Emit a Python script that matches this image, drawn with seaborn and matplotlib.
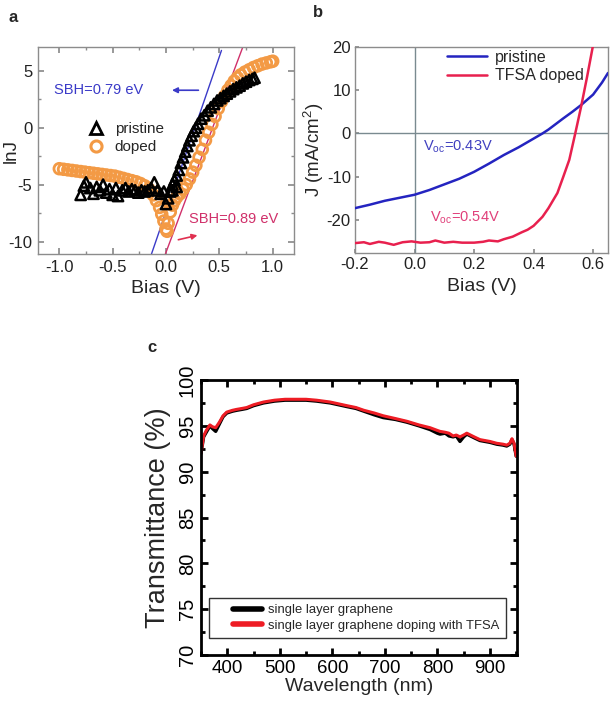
import matplotlib
matplotlib.use("Agg")
import matplotlib.pyplot as plt
import seaborn as sns
import pandas as pd
from matplotlib.ticker import MultipleLocator
from matplotlib.lines import Line2D
from matplotlib.legend_handler import HandlerLine2D

# ---------------- data: panel a ----------------
pristine_x = [-0.80, -0.77, -0.75, -0.71, -0.68, -0.65, -0.62, -0.59, -0.56, -0.53, -0.50,
              -0.47, -0.45, -0.41, -0.38, -0.35, -0.32, -0.29, -0.26, -0.23, -0.20, -0.17,
              -0.14, -0.11, -0.08, -0.05, -0.02, 0.06, 0.10,
              0.00, 0.02, 0.04, 0.06, 0.08, 0.10, 0.12, 0.14, 0.16, 0.18, 0.20, 0.22, 0.24,
              0.26, 0.28, 0.30, 0.33, 0.36, 0.39, 0.42, 0.45, 0.48, 0.51, 0.54, 0.57, 0.60,
              0.63, 0.66, 0.69, 0.72, 0.75, 0.78, 0.81, 0.83]
pristine_y = [-5.9, -5.1, -4.8, -5.3, -5.8, -5.2, -5.5, -5.0, -5.7, -5.4, -5.9,
              -5.3, -6.0, -5.5, -5.3, -5.6, -5.4, -5.5, -5.7, -5.5, -5.6, -5.5,
              -5.3, -4.8, -5.5, -5.8, -5.6, -5.5, -5.2,
              -6.7, -6.2, -5.6, -5.0, -4.6, -4.2, -3.7, -3.1, -2.6, -2.1, -1.6, -1.1, -0.7,
              -0.3, 0.0, 0.35, 0.8, 1.1, 1.5, 1.8, 2.1, 2.4, 2.6, 2.8, 3.0, 3.2,
              3.4, 3.55, 3.7, 3.9, 4.05, 4.2, 4.3, 4.4]

doped_x = [-1.00, -0.96, -0.92, -0.88, -0.84, -0.80, -0.76, -0.72, -0.68, -0.64, -0.60,
           -0.56, -0.52, -0.48, -0.44, -0.40, -0.36, -0.32, -0.28, -0.24, -0.20, -0.16,
           -0.12, -0.09, -0.06, -0.04, -0.02, 0.00, 0.01, 0.02, 0.04, 0.06, 0.08, 0.10,
           0.13, 0.16, 0.19, 0.22, 0.25, 0.28, 0.31, 0.34, 0.37, 0.40, 0.43, 0.46, 0.49,
           0.52, 0.55, 0.58, 0.61, 0.64, 0.67, 0.70, 0.74, 0.78, 0.82, 0.86, 0.90, 0.94,
           0.98, 1.00]
doped_y = [-3.6, -3.65, -3.7, -3.75, -3.8, -3.85, -3.9, -3.95, -4.0, -4.05, -4.1,
           -4.15, -4.2, -4.25, -4.35, -4.45, -4.55, -4.65, -4.75, -4.9, -5.1, -5.4,
           -5.9, -6.4, -7.0, -7.6, -8.2, -8.9, -9.1, -8.4, -7.4, -6.8, -6.4, -6.1,
           -5.8, -5.4, -5.0, -4.5, -3.9, -3.3, -2.6, -1.9, -1.1, -0.4, 0.3, 1.0, 1.7,
           2.3, 2.8, 3.3, 3.7, 4.1, 4.4, 4.65, 4.9, 5.1, 5.3, 5.45, 5.6, 5.7,
           5.8, 5.85]

fit_pristine_x = [-0.14, 0.52]
fit_pristine_y = [-11.2, 6.8]
fit_doped_x = [-0.01, 0.72]
fit_doped_y = [-11.2, 7.1]

# ---------------- data: panel b ----------------
jv_pristine_v = [-0.20, -0.15, -0.10, -0.05, 0.00, 0.05, 0.10, 0.15, 0.20, 0.25, 0.30,
                 0.35, 0.40, 0.43, 0.45, 0.50, 0.53, 0.56, 0.60, 0.63, 0.65]
jv_pristine_j = [-17.3, -16.5, -15.6, -14.9, -14.2, -13.1, -11.8, -10.5, -8.9, -7.0, -5.0,
                 -3.2, -1.2, 0.0, 0.9, 3.5, 5.0, 6.6, 9.0, 11.8, 14.0]
jv_doped_v = [-0.20, -0.17, -0.15, -0.12, -0.10, -0.07, -0.04, -0.01, 0.02, 0.05, 0.07,
              0.10, 0.13, 0.16, 0.20, 0.23, 0.25, 0.28, 0.30, 0.33, 0.36, 0.38, 0.40,
              0.43, 0.45, 0.48, 0.50, 0.52, 0.54, 0.56, 0.58, 0.60]
jv_doped_j = [-25.4, -25.2, -25.6, -25.1, -25.3, -25.8, -25.2, -25.0, -25.3, -25.2, -24.8,
              -25.3, -25.1, -25.3, -25.3, -25.1, -24.8, -25.0, -24.5, -23.9, -22.9, -22.3, -21.4,
              -19.3, -17.3, -13.8, -10.0, -6.1, 0.0, 6.3, 13.2, 20.5]

# ---------------- data: panel c ----------------
wl_graphene = [350, 355, 360, 367, 372, 378, 385, 392, 399, 410, 418, 428, 437, 450, 469,
               490, 510, 532, 550, 570, 596, 612, 628, 645, 660, 680, 697, 720, 742, 765,
               786, 800, 805, 815, 822, 830, 836, 843, 850, 856, 870, 881, 900, 913, 925,
               932, 938, 942, 946, 950]
t_graphene = [92.0, 93.8, 94.3, 95.0, 94.7, 94.4, 95.2, 96.0, 96.4, 96.6, 96.7, 96.8, 96.9,
              97.2, 97.5, 97.7, 97.8, 97.8, 97.8, 97.7, 97.5, 97.3, 97.1, 96.9, 96.6, 96.2,
              95.9, 95.7, 95.4, 95.0, 94.6, 94.2, 94.1, 94.2, 93.9, 93.8, 93.9, 93.3, 93.8,
              94.1, 93.7, 93.4, 93.2, 93.0, 92.9, 92.8, 93.0, 93.5, 93.0, 91.7]
wl_tfsa = [350, 355, 360, 367, 372, 378, 385, 392, 399, 410, 418, 428, 437, 450, 469,
           490, 510, 532, 550, 570, 596, 612, 628, 645, 660, 680, 697, 720, 742, 765,
           786, 800, 805, 815, 822, 830, 836, 843, 850, 856, 870, 881, 900, 913, 925,
           932, 938, 942, 946, 950]
t_tfsa = [92.0, 93.9, 94.5, 95.1, 94.9, 94.8, 95.4, 96.1, 96.5, 96.7, 96.8, 96.9, 97.0,
          97.3, 97.6, 97.8, 97.9, 97.9, 97.9, 97.8, 97.6, 97.4, 97.2, 97.0, 96.7, 96.4,
          96.1, 95.8, 95.5, 95.1, 94.8, 94.5, 94.4, 94.3, 94.2, 93.9, 94.0, 93.8, 94.0,
          94.2, 93.8, 93.5, 93.3, 93.1, 93.0, 92.9, 93.1, 93.6, 93.1, 91.7]

# ---------------- figure ----------------
sns.set_theme(style="ticks")
plt.rcParams['font.family'] = ['Liberation Sans', 'DejaVu Sans']
plt.rcParams['mathtext.fontset'] = 'custom'
plt.rcParams['mathtext.rm'] = 'Liberation Sans'
plt.rcParams['axes.unicode_minus'] = False

fig = plt.figure(figsize=(6.16, 7.06), dpi=100)

GRAY = '#8c8c8c'

# ---- panel a ----
axa = fig.add_axes([0.0617, 0.6402, 0.4156, 0.2932])
da = pd.DataFrame({'x': doped_x, 'y': doped_y})
pa = pd.DataFrame({'x': pristine_x, 'y': pristine_y})
sns.lineplot(x=fit_pristine_x, y=fit_pristine_y, ax=axa, color='#3a3ac8', lw=1.0)
sns.lineplot(x=fit_doped_x, y=fit_doped_y, ax=axa, color='#d0306a', lw=1.0)
sns.scatterplot(data=da, x='x', y='y', ax=axa, marker='o', s=60,
                facecolor='none', edgecolor='#f39a45', linewidth=2.0, zorder=3)
sns.scatterplot(data=pa, x='x', y='y', ax=axa, marker='^', s=55,
                facecolor='none', edgecolor='black', linewidth=1.8, zorder=4)
axa.set_xlim(-1.2, 1.2)
axa.set_ylim(-11.1, 7.1)
axa.set_xticks([-1.0, -0.5, 0.0, 0.5, 1.0])
axa.set_yticks([-10, -5, 0, 5])
axa.xaxis.set_minor_locator(MultipleLocator(0.25))
axa.yaxis.set_minor_locator(MultipleLocator(2.5))
axa.tick_params(which='both', direction='in', top=True, right=True, color=GRAY,
                labelsize=12, labelcolor='#222222', pad=4)
axa.tick_params(which='major', length=4)
axa.tick_params(which='minor', length=2)
for s in axa.spines.values():
    s.set_color(GRAY)
    s.set_linewidth(1.0)
axa.set_xlabel('Bias (V)', fontsize=14, labelpad=4)
axa.set_ylabel('lnJ', fontsize=13.5, va='center')
axa.yaxis.set_label_coords(-0.105, 0.5)
axa.text(-0.63, 3.3, 'SBH=0.79 eV', color='#3a3ac8', fontsize=10.5, ha='center', va='center')
axa.annotate('', xy=(0.03, 3.3), xytext=(0.33, 3.3),
             arrowprops=dict(arrowstyle='-|>', color='#3a3ac8', lw=1.2, mutation_scale=8))
axa.text(0.63, -8.0, 'SBH=0.89 eV', color='#d0306a', fontsize=10.5, ha='center', va='center')
axa.annotate('', xy=(0.32, -9.4), xytext=(0.09, -9.9),
             arrowprops=dict(arrowstyle='-|>', color='#e03050', lw=1.2, mutation_scale=8))
h_a = [Line2D([], [], ls='none', marker='^', ms=8, mfc='none', mec='black', mew=2.0),
       Line2D([], [], ls='none', marker='o', ms=8, mfc='none', mec='#f39a45', mew=2.2)]
axa.legend(h_a, ['pristine', 'doped'], loc='upper left', bbox_to_anchor=(0.15, 0.69),
           frameon=False, fontsize=11, handletextpad=0.6, labelspacing=0.3,
           handlelength=1.2, borderpad=0.2)
fig.text(0.013, 0.975, 'a', fontsize=12, fontweight='bold', va='center')

# ---- panel b ----
axb = fig.add_axes([0.5763, 0.6416, 0.4107, 0.2917])
axb.axhline(0, color='#7a8a90', lw=1.0, zorder=1)
axb.axvline(0, color='#7a8a90', lw=1.0, zorder=1)
sns.lineplot(x=jv_pristine_v, y=jv_pristine_j, ax=axb, color='#2424c0', lw=1.8,
             label='pristine', zorder=3)
sns.lineplot(x=jv_doped_v, y=jv_doped_j, ax=axb, color='#e8204e', lw=1.8,
             label='TFSA doped', zorder=3)
axb.set_xlim(-0.2, 0.65)
axb.set_ylim(-27.7, 20)
axb.set_xticks([-0.2, 0.0, 0.2, 0.4, 0.6])
axb.set_yticks([-20, -10, 0, 10, 20])
axb.tick_params(which='both', direction='in', color=GRAY, labelsize=12,
                labelcolor='#222222', length=3, pad=3)
for s in axb.spines.values():
    s.set_color(GRAY)
    s.set_linewidth(1.0)
axb.set_xlabel('Bias (V)', fontsize=14, labelpad=4)
axb.set_ylabel('J (mA/cm$^2$)', fontsize=13.5, va='center')
axb.yaxis.set_label_coords(-0.165, 0.5)
axb.text(0.145, -3.0, r'V$_{\rm oc}$=0.43V', color='#4040c0', fontsize=10.5, ha='center', va='center')
axb.text(0.17, -19.5, r'V$_{\rm oc}$=0.54V', color='#e0407a', fontsize=10.5, ha='center', va='center')
axb.legend(loc='upper right', bbox_to_anchor=(0.95, 1.04), frameon=False, fontsize=11.5,
           handlelength=2.5, handletextpad=0.5, labelspacing=0.2, borderpad=0.2)
fig.text(0.508, 0.983, 'b', fontsize=12, fontweight='bold', va='center')

# ---- panel c ----
axc = fig.add_axes([0.3263, 0.0722, 0.5125, 0.3895])
sns.lineplot(x=wl_graphene, y=t_graphene, ax=axc, color='black', lw=2.4,
             label='single layer graphene')
sns.lineplot(x=wl_tfsa, y=t_tfsa, ax=axc, color='#ee1c24', lw=2.2,
             label='single layer graphene doping with TFSA')
axc.set_xlim(350, 951)
axc.set_ylim(70, 100)
axc.set_xticks([400, 500, 600, 700, 800, 900])
axc.set_yticks([70, 75, 80, 85, 90, 95, 100])
axc.xaxis.set_minor_locator(MultipleLocator(50))
axc.yaxis.set_minor_locator(MultipleLocator(2.5))
axc.tick_params(which='both', direction='in', top=True, right=True, color='black',
                labelcolor='black', width=2)
axc.tick_params(axis='x', labelsize=13.5)
axc.tick_params(axis='y', labelsize=14.5, pad=3)
axc.tick_params(which='major', length=5)
axc.tick_params(which='minor', length=3)
for lab in axc.get_yticklabels():
    lab.set_rotation(90)
    lab.set_va('center')
for s in axc.spines.values():
    s.set_color('black')
    s.set_linewidth(2.0)
axc.set_xlabel('Wavelength (nm)', fontsize=14, labelpad=1)
axc.set_ylabel('Transmittance (%)', fontsize=19.5, va='center')
axc.yaxis.set_label_coords(-0.135, 0.5)
leg = axc.legend(loc='lower left', bbox_to_anchor=(0.025, 0.063, 0.94, 0.14), mode='expand',
                 fontsize=9.4, frameon=True, fancybox=False, handlelength=3.6,
                 handletextpad=0.45, labelspacing=0.25, borderpad=0.45,
                 borderaxespad=0,
                 handler_map={Line2D: HandlerLine2D(xpad=1.4)})
leg.get_frame().set_edgecolor('black')
leg.get_frame().set_linewidth(1.0)
for line in leg.get_lines():
    line.set_linewidth(4)
fig.text(0.24, 0.508, 'c', fontsize=12, fontweight='bold', va='center')

fig.savefig('out.png', dpi=100)
